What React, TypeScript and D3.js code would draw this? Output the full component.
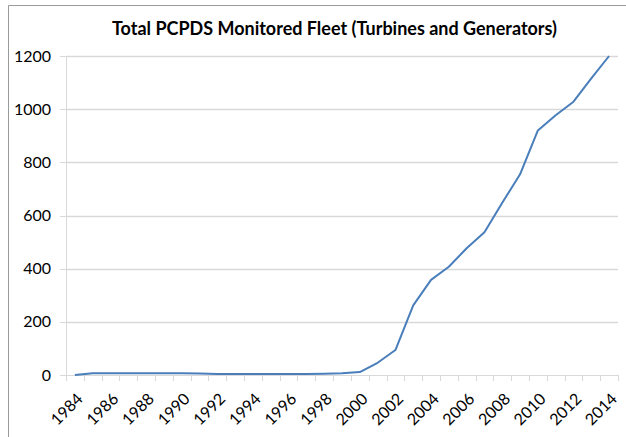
import React from 'react'
import * as d3 from 'd3'

const YEARS = d3.range(1984, 2015).map(String)
const FLEET = [0, 7, 7, 7, 7, 7, 7, 6, 4, 4, 4, 4, 4, 4, 5, 7, 11, 46, 94, 262, 358, 407, 477, 537, 648, 755, 920, 977, 1028, 1116, 1200]
const Y_TICKS = [0, 200, 400, 600, 800, 1000, 1200]
const X_LABELS = YEARS.filter((d, i) => i % 2 === 0)

const WIDTH = 626
const HEIGHT = 437
const FONT = 'Lato, "Open Sans", sans-serif'

export default function App() {
  const x = d3.scaleBand().domain(YEARS).range([66, 618])
  const y = d3.scaleLinear().domain([0, 1200]).range([375, 56])
  const cx = (d: string) => (x(d) as number) + x.bandwidth() / 2

  const line = d3.line<number>()
    .x((d, i) => cx(YEARS[i]))
    .y(d => y(d))

  const tickXs = YEARS.map(d => x(d) as number).concat([618])

  return (
    <svg
      width={WIDTH}
      height={HEIGHT}
      style={{ position: 'absolute', left: 0, top: 0, background: '#fff' }}
      fontFamily={FONT}
    >
      <path d="M8.5,437V5.5H626" fill="none" stroke="#9a9a9a" strokeWidth="1" />

      <text
        x={112}
        y={35}
        fontSize="19.5"
        fontWeight="bold"
        fill="#000"
        textLength={445}
        lengthAdjust="spacingAndGlyphs"
      >
        Total PCPDS Monitored Fleet (Turbines and Generators)
      </text>

      {Y_TICKS.map(t => (
        <g key={t}>
          {t > 0 && (
            <line x1={66} x2={618} y1={Math.round(y(t)) + 0.5} y2={Math.round(y(t)) + 0.5} stroke="#d9d9d9" strokeWidth="1.5" />
          )}
          <line x1={60} x2={66} y1={Math.round(y(t)) + 0.5} y2={Math.round(y(t)) + 0.5} stroke="#d9d9d9" />
          <text x={51} y={y(t)} dy="0.35em" textAnchor="end" fontSize="16" fill="#000">{t}</text>
        </g>
      ))}

      <line x1={66.5} x2={66.5} y1={56} y2={381} stroke="#d9d9d9" />
      <line x1={66} x2={618} y1={375.5} y2={375.5} stroke="#d9d9d9" />
      {tickXs.map((t, i) => (
        <line key={i} x1={Math.round(t) + 0.5} x2={Math.round(t) + 0.5} y1={375} y2={381} stroke="#d9d9d9" />
      ))}

      <path d={line(FLEET) as string} fill="none" stroke="#4a7ebb" strokeWidth="2" strokeLinejoin="round" />

      {X_LABELS.map(d => (
        <text
          key={d}
          transform={`translate(${cx(d) + 5},${396}) rotate(-45)`}
          textAnchor="end"
          dy="0.35em"
          fontSize="16"
          fill="#000"
        >
          {d}
        </text>
      ))}
    </svg>
  )
}
